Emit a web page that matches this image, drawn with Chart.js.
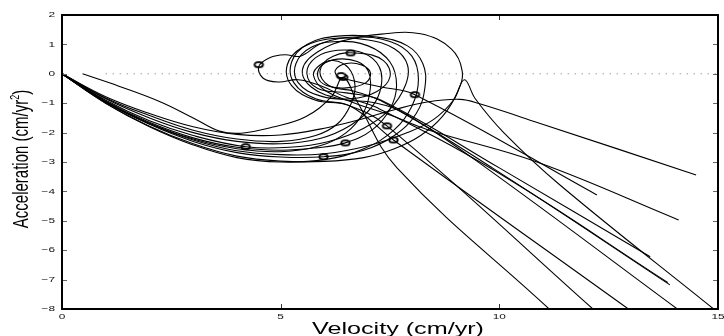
<!DOCTYPE html>
<html lang="en">
<head>
    <meta charset="UTF-8">
    <title>Velocity vs acceleration</title>
    <style>
        html, body { margin: 0; padding: 0; background: #fff; overflow: hidden; }
        canvas { display: block; }
    </style>
</head>
<body>
    <canvas id="phase" width="724" height="336"></canvas>
    <script src="https://cdn.jsdelivr.net/npm/chart.js"></script>

    <script>
        // DATA (velocity cm/yr, acceleration cm/yr^2)

        const xTicks = [0, 5, 10, 15];
        const yTicks = [2, 1, 0, -1, -2, -3, -4, -5, -6, -7, -8];

        const zeroLineX = [1, 15];
        const zeroLineY = [0, 0];

        const traj1 = [[0,0],[1,-1.0],[2,-1.78],[3,-2.38],[4,-2.8],[5,-2.97],[6,-2.98],[6.9,-2.85],[7.6,-2.55],[8.2,-2.1],[8.7,-1.45],[9.05,-0.6],[9.15,0.1],[8.9,0.85],[8.2,1.36],[7.3,1.35],[6.5,1.15],[5.85,0.75],[5.5,0.15],[5.7,-0.45],[6.35,-0.85],[7.2,-1.0],[7.9,-1.4],[9.7,-3.2],[14.07,-8]];
        const traj2 = [[0,0],[1,-0.95],[2,-1.7],[3,-2.25],[4,-2.62],[5,-2.75],[6,-2.72],[7,-2.45],[7.9,-2.0],[8.5,-1.55],[8.95,-0.9],[9.2,-0.2],[9.45,-0.85],[10.1,-2.0],[11.4,-3.8],[14.9,-8]];
        const traj3 = [[0,0],[1,-0.78],[2,-1.35],[3,-1.8],[4,-2.06],[5,-2.08],[6,-1.85],[6.8,-1.56],[7.6,-1.22],[8.35,-0.96],[9.1,-0.87],[9.55,-1.02],[10.9,-1.67],[14.5,-3.44]];
        const traj4 = [[0.47,0],[1.3,-0.42],[2.23,-0.94],[3.0,-1.5],[3.6,-1.95],[4.1,-2.02],[4.8,-1.82],[5.57,-1.46],[6.16,-0.78],[6.43,-0.12],[6.75,-0.95],[7.66,-3.2],[11.14,-8]];
        const traj5 = [[0,0],[1,-0.9],[2,-1.6],[3,-2.1],[4.2,-2.48],[5.2,-2.5],[6.1,-2.3],[6.9,-1.85],[7.5,-1.2],[7.85,-0.4],[7.9,0.3],[7.6,0.85],[7.0,1.15],[6.2,1.2],[5.5,0.9],[5.15,0.3],[5.25,-0.4],[5.8,-0.9],[6.5,-1.05],[7.43,-1.77],[12.14,-8]];
        const traj6 = [[0,0],[1,-0.97],[2,-1.72],[3,-2.3],[4,-2.68],[5,-2.83],[5.98,-2.82],[6.9,-2.6],[7.6,-2.1],[8.1,-1.35],[8.3,-0.45],[8.25,0.35],[7.9,0.95],[7.2,1.25],[6.3,1.28],[5.6,1.0],[5.25,0.4],[5.3,-0.3],[5.8,-0.85],[6.6,-1.1],[7.58,-2.25],[12.95,-8]];
        const traj7 = [[0,0],[1,-0.93],[2,-1.65],[3,-2.18],[4,-2.5],[5,-2.6],[5.8,-2.52],[6.48,-2.35],[7.1,-1.9],[7.5,-1.2],[7.65,-0.4],[7.5,0.4],[7.0,0.95],[6.3,1.1],[5.7,0.9],[5.35,0.35],[5.4,-0.3],[5.9,-0.75],[6.6,-0.85],[7.2,-0.6],[7.5,-0.1],[7.35,0.45],[6.8,0.7],[6.2,0.6],[5.9,0.1],[6.1,-0.4],[6.7,-0.6],[7.4,-1.0],[9.84,-3.2],[13.9,-7.18]];
        const traj8 = [[0,0],[1,-0.85],[2,-1.5],[3,-2.0],[4,-2.3],[5,-2.38],[5.9,-2.2],[6.6,-1.75],[7.1,-1.1],[7.3,-0.4],[7.25,0.25],[6.9,0.7],[6.3,0.8],[5.8,0.55],[5.6,0.0],[5.85,-0.5],[6.5,-0.65],[7.3,-0.9],[10.0,-3.2],[13.45,-6.22]];
        const traj9 = [[0,0],[1,-1.0],[2,-1.8],[3,-2.42],[4,-2.85],[5,-3.0],[6,-2.92],[6.9,-2.55],[7.6,-1.9],[8.0,-1.1],[8.15,-0.2],[8.0,0.6],[7.5,1.1],[6.7,1.25],[5.95,1.05],[5.45,0.6],[5.1,0.65],[4.75,0.55],[4.5,0.25],[4.6,-0.15],[4.95,-0.28],[5.4,-0.2],[5.9,-0.4],[6.5,-0.8],[7.2,-1.15],[9.9,-3.3],[13.85,-7.1]];
        const traj10 = [[0,0],[1,-0.95],[2,-1.68],[3,-2.22],[4,-2.55],[5,-2.65],[5.9,-2.45],[6.5,-2.0],[6.9,-1.3],[7.05,-0.5],[7.0,0.1],[6.75,0.42],[6.3,0.5],[5.95,0.3],[5.85,-0.1],[6.05,-0.4],[6.5,-0.48],[6.95,-0.3],[7.05,0.05],[6.85,0.3],[6.5,0.35],[6.25,0.12],[6.33,-0.12],[6.6,-0.22],[7.3,-0.45],[8.07,-0.71],[12.23,-4.12]];
        const traj11 = [[0,0],[1,-0.82],[2,-1.42],[3,-1.92],[4,-2.22],[5,-2.3],[5.8,-2.1],[6.3,-1.7],[6.6,-1.05],[6.7,-0.4],[6.55,0.2],[6.2,0.45],[5.9,0.3],[5.75,-0.05],[6.0,-0.55],[6.7,-1.0],[7.5,-1.4],[8.36,-1.9],[10.86,-3.0],[14.1,-4.97]];

        const markerX = [4.5, 6.6, 6.43, 6.38, 4.2, 5.98, 6.48, 7.43, 7.58, 8.07];
        const markerY = [0.31, 0.71, -0.12, -0.06, -2.48, -2.82, -2.35, -1.77, -2.25, -0.71];
    </script>

    <script>
        const STRETCH = 1.48; // the figure text is stretched sideways

        const trajectories = [traj1, traj2, traj3, traj4, traj5, traj6, traj7, traj8, traj9, traj10, traj11];

        // small flattened ring used as the marker
        const ring = document.createElement('canvas');
        ring.width = 13;
        ring.height = 9;
        const rc = ring.getContext('2d');
        rc.beginPath();
        rc.ellipse(6.5, 4.5, 4.2, 2.6, 0, 0, Math.PI * 2);
        rc.fillStyle = '#fff';
        rc.fill();
        rc.lineWidth = 1.9;
        rc.strokeStyle = '#000';
        rc.stroke();

        const stretchedText = (ctx, text, x, y, align, baseline) => {
            ctx.save();
            ctx.translate(x, y);
            ctx.scale(STRETCH, 1);
            ctx.textAlign = align;
            ctx.textBaseline = baseline;
            ctx.fillText(text, 0, 0);
            ctx.restore();
        };

        // frame, inward ticks, labels and titles
        const framePlugin = {
            id: 'frame',
            afterDraw(chart) {
                const ctx = chart.ctx;
                const a = chart.chartArea;
                const xs = chart.scales.x;
                const ys = chart.scales.y;

                ctx.save();
                ctx.strokeStyle = '#000';
                ctx.lineWidth = 1;
                yTicks.forEach(v => {
                    const py = Math.round(ys.getPixelForValue(v)) + 0.5;
                    ctx.beginPath();
                    ctx.moveTo(a.left, py); ctx.lineTo(a.left + 5, py);
                    ctx.moveTo(a.right, py); ctx.lineTo(a.right - 5, py);
                    ctx.strokeStyle = '#666';
                    ctx.stroke();
                });
                xTicks.forEach(v => {
                    const px = Math.round(xs.getPixelForValue(v)) + 0.5;
                    ctx.beginPath();
                    ctx.moveTo(px, a.bottom); ctx.lineTo(px, a.bottom - 5);
                    ctx.moveTo(px, a.top); ctx.lineTo(px, a.top + 5);
                    ctx.strokeStyle = '#333';
                    ctx.stroke();
                });

                ctx.strokeStyle = '#000';
                ctx.lineWidth = 2;
                ctx.strokeRect(a.left, a.top, a.right - a.left, a.bottom - a.top);

                ctx.fillStyle = '#111';
                ctx.font = '8px "Liberation Sans", Arial, sans-serif';
                yTicks.forEach(v => {
                    const label = v < 0 ? '\u2212' + Math.abs(v) : String(v);
                    stretchedText(ctx, label, a.left - 7, ys.getPixelForValue(v), 'right', 'middle');
                });
                xTicks.forEach(v => {
                    stretchedText(ctx, String(v), xs.getPixelForValue(v), a.bottom + 4, 'center', 'top');
                });

                // x title
                ctx.fillStyle = '#000';
                ctx.font = '17px "Liberation Sans", Arial, sans-serif';
                stretchedText(ctx, 'Velocity (cm/yr)', 398, 334, 'center', 'alphabetic');

                // y title, rotated, with superscript
                ctx.save();
                ctx.translate(28, 159);
                ctx.scale(STRETCH, 1);
                ctx.rotate(-Math.PI / 2);
                ctx.textBaseline = 'alphabetic';
                ctx.textAlign = 'left';
                const main = 'Acceleration (cm/yr';
                ctx.font = '15px "Liberation Sans", Arial, sans-serif';
                const w1 = ctx.measureText(main).width;
                const w3 = ctx.measureText(')').width;
                ctx.font = '9px "Liberation Sans", Arial, sans-serif';
                const w2 = ctx.measureText('2').width;
                let sx = -(w1 + w2 + w3) / 2;
                ctx.font = '15px "Liberation Sans", Arial, sans-serif';
                ctx.fillText(main, sx, 0);
                ctx.font = '9px "Liberation Sans", Arial, sans-serif';
                ctx.fillText('2', sx + w1, -6);
                ctx.font = '15px "Liberation Sans", Arial, sans-serif';
                ctx.fillText(')', sx + w1 + w2, 0);
                ctx.restore();

                ctx.restore();
            }
        };

        const datasets = trajectories.map(t => ({
            data: t.map(([x, y]) => ({ x, y })),
            showLine: true,
            borderColor: '#000',
            borderWidth: 1.1,
            pointRadius: 0,
            tension: 0.4,
            fill: false
        }));

        datasets.unshift({
            data: zeroLineX.map((x, i) => ({ x, y: zeroLineY[i] })),
            showLine: true,
            borderColor: '#777',
            borderWidth: 1,
            borderDash: [1, 6],
            pointRadius: 0,
            tension: 0
        });

        datasets.push({
            data: markerX.map((x, i) => ({ x, y: markerY[i] })),
            showLine: false,
            pointStyle: ring,
            pointRadius: 5,
            clip: false
        });

        new Chart(document.getElementById('phase'), {
            type: 'scatter',
            data: { datasets },
            options: {
                responsive: false,
                animation: false,
                devicePixelRatio: 1,
                layout: { padding: { left: 62, right: 2, top: 15, bottom: 27 } },
                plugins: {
                    legend: { display: false },
                    tooltip: { enabled: false }
                },
                scales: {
                    x: { type: 'linear', min: 0, max: 15, display: false },
                    y: { type: 'linear', min: -8, max: 2, display: false }
                }
            },
            plugins: [framePlugin]
        });
    </script>
</body>
</html>
